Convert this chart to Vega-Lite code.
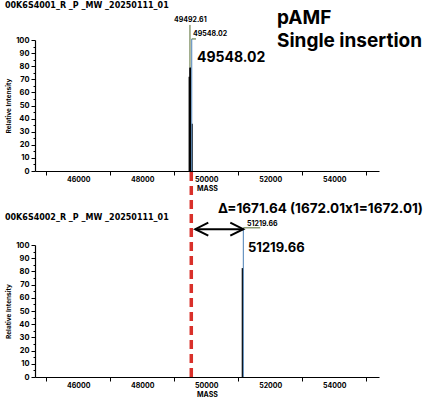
{
  "$schema": "https://vega.github.io/schema/vega-lite/v6.json",
  "padding": {"left": 4, "top": 1, "right": 2, "bottom": 2},
  "bounds": "flush",
  "spacing": 74,
  "config": {
    "font": "Inter",
    "view": {"stroke": null},
    "axis": {"grid": false, "domainColor": "black", "tickColor": "black", "labelColor": "black", "titleColor": "black", "labelFontWeight": "bold", "titleFontWeight": "bold", "domainWidth": 1.2, "tickWidth": 1}
  },
  "vconcat": [
    {
      "width": 344,
      "height": 131,
      "encoding": {
        "x": {"field": "mass", "type": "quantitative", "scale": {"domain": [44650, 55400], "nice": false, "zero": false},
          "axis": {"title": "MASS", "values": [45000, 46000, 47000, 48000, 49000, 50000, 51000, 52000, 53000, 54000, 55000], "format": "d", "labelExpr": "datum.value % 2000 == 0 ? datum.label : ''", "tickOpacity": {"condition": {"test": "datum.value % 2000 == 0", "value": 0}, "value": 1}, "tickSize": 4, "labelPadding": 0, "labelFontSize": 7, "titleFontSize": 7, "titlePadding": 2, "labelOverlap": false}},
        "y": {"field": "intensity", "type": "quantitative", "scale": {"domain": [0, 100], "nice": false},
          "axis": {"title": "Relative Intensity", "values": [0, 5, 10, 15, 20, 25, 30, 35, 40, 45, 50, 55, 60, 65, 70, 75, 80, 85, 90, 95, 100], "labelExpr": "datum.value % 10 == 0 ? datum.label : ''", "tickSize": {"condition": {"test": "datum.value % 10 != 0", "value": 2}, "value": 4}, "labelPadding": 2, "labelFontSize": 7.5, "titleFontSize": 6.5, "titlePadding": 4, "labelOverlap": false}}
      },
      "layer": [
        {"data": {"values": [{"mass": 49470, "intensity": 72}, {"mass": 49490, "intensity": 79}, {"mass": 49505, "intensity": 79}, {"mass": 49560, "intensity": 36}]},
          "mark": {"type": "rule", "color": "black", "strokeWidth": 1.3}, "encoding": {"y2": {"datum": 0}}},
        {"data": {"values": [{"mass": 49492.61, "mass2": 49492.61, "intensity": 79, "intensity2": 111.5}, {"mass": 49548.02, "mass2": 49681, "intensity": 100.8, "intensity2": 100.8}]},
          "mark": {"type": "rule", "color": "#556b2f", "strokeWidth": 1}, "encoding": {"x2": {"field": "mass2"}, "y2": {"field": "intensity2"}}},
        {"data": {"values": [{"mass": 49548.02, "intensity": 100.8, "intensity2": 0}]},
          "mark": {"type": "rule", "color": "#4a7fb5", "strokeWidth": 1}, "encoding": {"y2": {"field": "intensity2"}}},
        {"data": {"values": [{"mass": 43712, "intensity": 126, "label": "00K6S4001_R _P _MW _20250111_01"}]},
          "mark": {"type": "text", "align": "left", "baseline": "middle", "font": "DejaVu Sans", "fontSize": 8, "fontWeight": "bold", "color": "black"}, "encoding": {"text": {"field": "label"}}},
        {"data": {"values": [{"mass": 48994, "intensity": 115.6, "label": "49492.61"}, {"mass": 49587, "intensity": 104.6, "label": "49548.02"}]},
          "mark": {"type": "text", "align": "left", "baseline": "middle", "fontSize": 7, "fontWeight": "bold", "color": "black"}, "encoding": {"text": {"field": "label"}}},
        {"data": {"values": [{"mass": 49712, "intensity": 86.3, "label": "49548.02"}]},
          "mark": {"type": "text", "align": "left", "baseline": "middle", "fontSize": 14, "fontWeight": "bold", "color": "black"}, "encoding": {"text": {"field": "label"}}},
        {"data": {"values": [{"mass": 52212, "intensity": 116.8, "label": "pAMF"}, {"mass": 52212, "intensity": 99.2, "label": "Single insertion"}]},
          "mark": {"type": "text", "align": "left", "baseline": "middle", "fontSize": 19, "fontWeight": "bold", "color": "black"}, "encoding": {"text": {"field": "label"}}}
      ]
    },
    {
      "width": 344,
      "height": 132,
      "encoding": {
        "x": {"field": "mass", "type": "quantitative", "scale": {"domain": [44650, 55400], "nice": false, "zero": false},
          "axis": {"title": "MASS", "values": [45000, 46000, 47000, 48000, 49000, 50000, 51000, 52000, 53000, 54000, 55000], "format": "d", "labelExpr": "datum.value % 2000 == 0 ? datum.label : ''", "tickOpacity": {"condition": {"test": "datum.value % 2000 == 0", "value": 0}, "value": 1}, "tickSize": 4, "labelPadding": 0, "labelFontSize": 7, "titleFontSize": 7, "titlePadding": 2, "labelOverlap": false}},
        "y": {"field": "intensity", "type": "quantitative", "scale": {"domain": [0, 100], "nice": false},
          "axis": {"title": "Relative Intensity", "values": [0, 5, 10, 15, 20, 25, 30, 35, 40, 45, 50, 55, 60, 65, 70, 75, 80, 85, 90, 95, 100], "labelExpr": "datum.value % 10 == 0 ? datum.label : ''", "tickSize": {"condition": {"test": "datum.value % 10 != 0", "value": 2}, "value": 4}, "labelPadding": 2, "labelFontSize": 7.5, "titleFontSize": 6.5, "titlePadding": 4, "labelOverlap": false}}
      },
      "layer": [
        {"data": {"values": [{"mass": 51130, "intensity": 82.5}]},
          "mark": {"type": "rule", "color": "black", "strokeWidth": 1.3}, "encoding": {"y2": {"datum": 0}}},
        {"data": {"values": [{"mass": 51160, "intensity": 113, "intensity2": 0}]},
          "mark": {"type": "rule", "color": "#4a7fb5", "strokeWidth": 1}, "encoding": {"y2": {"field": "intensity2"}}},
        {"data": {"values": [{"mass": 51160, "mass2": 51690, "intensity": 113, "intensity2": 113}]},
          "mark": {"type": "rule", "color": "#556b2f", "strokeWidth": 1}, "encoding": {"x2": {"field": "mass2"}, "y2": {"field": "intensity2"}}},
        {"data": {"values": [{"mass": 49534, "intensity": 155.3, "intensity2": 0}]},
          "mark": {"type": "rule", "color": "#d9302a", "strokeWidth": 3.5, "strokeDash": [9, 5]}, "encoding": {"y2": {"field": "intensity2"}}},
        {"data": {"values": [{"mass": 49659, "mass2": 51159, "intensity": 112, "intensity2": 112}]},
          "mark": {"type": "rule", "color": "black", "strokeWidth": 2}, "encoding": {"x2": {"field": "mass2"}, "y2": {"field": "intensity2"}}},
        {"data": {"values": [{"mass": 49659, "intensity": 112, "head": "left"}, {"mass": 51159, "intensity": 112, "head": "right"}]},
          "mark": {"type": "point", "filled": false, "stroke": "black", "strokeWidth": 2, "size": 169, "opacity": 1},
          "encoding": {"shape": {"field": "head", "type": "nominal", "legend": null, "scale": {"domain": ["left", "right"], "range": ["M2,-1L0,0L2,1", "M-2,-1L0,0L-2,1"]}}}},
        {"data": {"values": [{"mass": 43712, "intensity": 120.5, "label": "00K6S4002_R _P _MW _20250111_01"}]},
          "mark": {"type": "text", "align": "left", "baseline": "middle", "font": "DejaVu Sans", "fontSize": 8, "fontWeight": "bold", "color": "black"}, "encoding": {"text": {"field": "label"}}},
        {"data": {"values": [{"mass": 51275, "intensity": 115.9, "label": "51219.66"}]},
          "mark": {"type": "text", "align": "left", "baseline": "middle", "fontSize": 7, "fontWeight": "bold", "color": "black"}, "encoding": {"text": {"field": "label"}}},
        {"data": {"values": [{"mass": 51306, "intensity": 97.7, "label": "51219.66"}]},
          "mark": {"type": "text", "align": "left", "baseline": "middle", "fontSize": 13, "fontWeight": "bold", "color": "black"}, "encoding": {"text": {"field": "label"}}},
        {"data": {"values": [{"mass": 50369, "intensity": 127.3, "label": "Δ=1671.64 (1672.01x1=1672.01)"}]},
          "mark": {"type": "text", "align": "left", "baseline": "middle", "fontSize": 13.5, "fontWeight": "bold", "color": "black"}, "encoding": {"text": {"field": "label"}}}
      ]
    }
  ]
}
